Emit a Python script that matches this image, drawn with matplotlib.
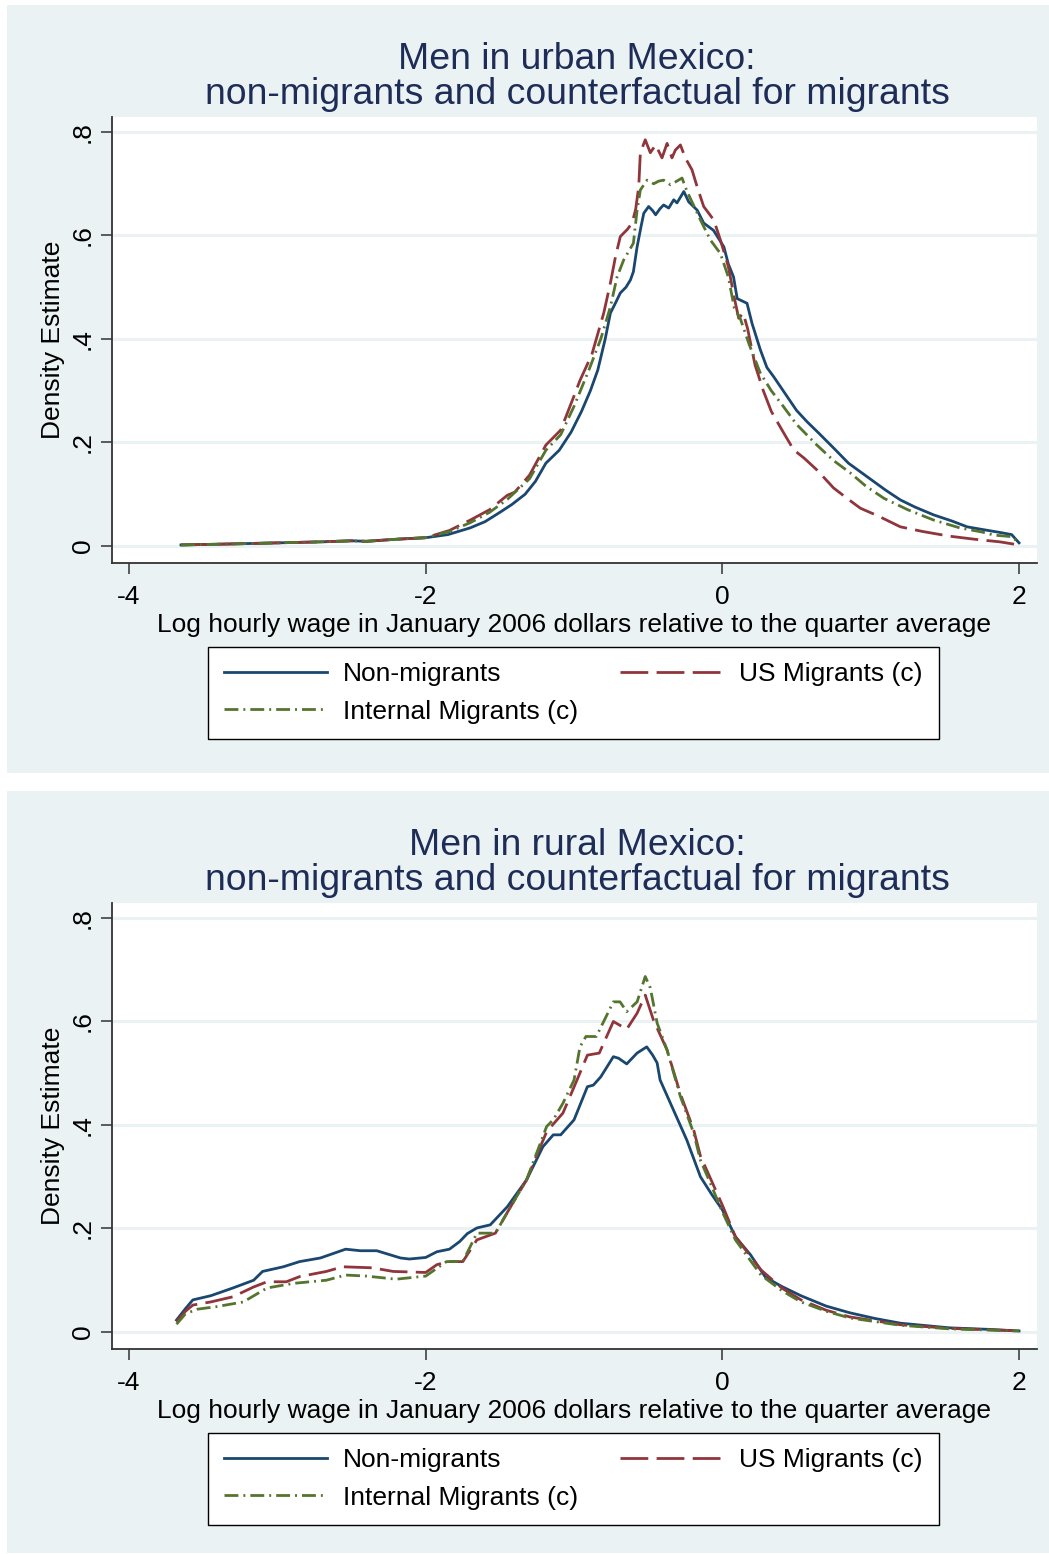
import matplotlib
matplotlib.use("Agg")
import matplotlib.pyplot as plt
from matplotlib.patches import Rectangle

# wage density estimates, urban panel
urban_nonmig_x = [-3.65, -3.3, -3.0, -2.7, -2.5, -2.4, -2.2, -2.0, -1.85, -1.70, -1.60, -1.50, -1.42,
                  -1.33, -1.26, -1.19, -1.10, -1.02, -0.95, -0.89, -0.84, -0.79, -0.755, -0.72, -0.688,
                  -0.65, -0.62, -0.60, -0.575, -0.55, -0.53, -0.497, -0.47, -0.45, -0.42, -0.396, -0.362,
                  -0.328, -0.306, -0.26, -0.227, -0.17, -0.126, -0.06, 0.01, 0.04, 0.075, 0.10, 0.166,
                  0.20, 0.256, 0.30, 0.346, 0.436, 0.50, 0.571, 0.65, 0.751, 0.85, 0.975, 1.10, 1.20,
                  1.30, 1.425, 1.55, 1.65, 1.75, 1.874, 1.95, 2.0]
urban_nonmig_y = [0.002, 0.004, 0.006, 0.008, 0.010, 0.009, 0.013, 0.016, 0.022, 0.035, 0.047, 0.065, 0.080,
                  0.100, 0.125, 0.160, 0.185, 0.220, 0.260, 0.300, 0.340, 0.400, 0.450, 0.470, 0.489,
                  0.500, 0.514, 0.530, 0.578, 0.615, 0.643, 0.656, 0.648, 0.640, 0.652, 0.659, 0.653,
                  0.669, 0.663, 0.685, 0.665, 0.649, 0.624, 0.610, 0.578, 0.545, 0.520, 0.478, 0.469,
                  0.430, 0.379, 0.345, 0.327, 0.289, 0.262, 0.240, 0.218, 0.189, 0.160, 0.134, 0.108, 0.089,
                  0.075, 0.060, 0.048, 0.037, 0.032, 0.026, 0.022, 0.006]

urban_us_x = [-3.65, -3.3, -3.0, -2.7, -2.5, -2.4, -2.2, -2.0, -1.84, -1.70, -1.57, -1.45, -1.40, -1.30,
              -1.19, -1.09, -1.00, -0.96, -0.88, -0.80, -0.755, -0.72, -0.688, -0.64, -0.609, -0.585,
              -0.564, -0.553, -0.52, -0.486, -0.45, -0.407, -0.373, -0.34, -0.317, -0.283, -0.25, -0.205,
              -0.17, -0.126, -0.058, -0.013, 0.04, 0.08, 0.11, 0.14, 0.17, 0.22, 0.276, 0.33, 0.40, 0.48,
              0.55, 0.637, 0.75, 0.85, 0.93, 1.05, 1.20, 1.35, 1.53, 1.70, 1.87, 2.0]
urban_us_y = [0.002, 0.004, 0.006, 0.008, 0.010, 0.009, 0.013, 0.016, 0.030, 0.050, 0.070, 0.098, 0.104, 0.137,
              0.195, 0.224, 0.290, 0.320, 0.370, 0.450, 0.508, 0.560, 0.598, 0.612, 0.624, 0.650,
              0.694, 0.760, 0.785, 0.760, 0.775, 0.750, 0.778, 0.750, 0.765, 0.775, 0.750, 0.727,
              0.694, 0.656, 0.630, 0.591, 0.540, 0.480, 0.440, 0.450, 0.420, 0.350, 0.300, 0.260, 0.225, 0.186,
              0.170, 0.147, 0.112, 0.090, 0.073, 0.058, 0.037, 0.028, 0.019, 0.013, 0.008, 0.002]

urban_int_x = [-3.65, -3.3, -3.0, -2.7, -2.5, -2.4, -2.2, -2.0, -1.84, -1.70, -1.57, -1.45, -1.30, -1.19,
               -1.09, -1.00, -0.90, -0.82, -0.755, -0.71, -0.665, -0.60, -0.575, -0.553, -0.508, -0.463,
               -0.43, -0.396, -0.35, -0.272, -0.238, -0.19, -0.148, -0.08, -0.013, 0.04, 0.08, 0.12, 0.18,
               0.256, 0.33, 0.41, 0.50, 0.637, 0.75, 0.863, 0.97, 1.09, 1.25, 1.425, 1.60, 1.75, 1.83,
               1.95, 2.0]
urban_int_y = [0.002, 0.004, 0.006, 0.008, 0.010, 0.009, 0.013, 0.016, 0.028, 0.045, 0.065, 0.090, 0.130, 0.185,
               0.215, 0.270, 0.340, 0.400, 0.462, 0.520, 0.553, 0.585, 0.649, 0.688, 0.707, 0.700,
               0.705, 0.707, 0.698, 0.711, 0.685, 0.656, 0.630, 0.591, 0.565, 0.520, 0.460, 0.440, 0.390,
               0.334, 0.300, 0.270, 0.235, 0.195, 0.165, 0.141, 0.115, 0.092, 0.070, 0.050, 0.035, 0.027, 0.021,
               0.018, 0.006]

# wage density estimates, rural panel
rural_nonmig_x = [-3.68, -3.62, -3.57, -3.45, -3.30, -3.16, -3.10, -2.96, -2.85, -2.71, -2.62, -2.54, -2.44,
                  -2.33, -2.17, -2.11, -2.0, -1.925, -1.84, -1.77, -1.72, -1.655, -1.565, -1.45, -1.32,
                  -1.21, -1.14, -1.09, -1.0, -0.91, -0.87, -0.82, -0.735, -0.70, -0.645, -0.575, -0.51,
                  -0.47, -0.44, -0.42, -0.33, -0.24, -0.148, -0.07, 0.0, 0.088, 0.19, 0.29, 0.40, 0.53,
                  0.70, 0.86, 1.03, 1.2, 1.53, 1.80, 2.0]
rural_nonmig_y = [0.023, 0.045, 0.062, 0.070, 0.085, 0.100, 0.117, 0.126, 0.136, 0.143, 0.152, 0.160, 0.157,
                  0.157, 0.143, 0.141, 0.144, 0.155, 0.160, 0.175, 0.190, 0.201, 0.207, 0.242, 0.294,
                  0.358, 0.381, 0.381, 0.410, 0.474, 0.477, 0.493, 0.532, 0.529, 0.518, 0.539, 0.551,
                  0.535, 0.520, 0.487, 0.429, 0.371, 0.300, 0.265, 0.236, 0.184, 0.149, 0.106, 0.088, 0.070,
                  0.050, 0.037, 0.026, 0.017, 0.008, 0.005, 0.002]

rural_us_x = [-3.68, -3.62, -3.57, -3.45, -3.30, -3.16, -3.07, -2.94, -2.85, -2.67, -2.56, -2.36, -2.22,
              -2.0, -1.925, -1.85, -1.75, -1.655, -1.53, -1.44, -1.32, -1.185, -1.075, -0.98, -0.91,
              -0.83, -0.735, -0.645, -0.575, -0.52, -0.465, -0.373, -0.283, -0.193, -0.148, -0.07, 0.0,
              0.088, 0.26, 0.40, 0.53, 0.70, 0.86, 1.2, 1.53, 2.0]
rural_us_y = [0.020, 0.040, 0.052, 0.058, 0.068, 0.087, 0.097, 0.097, 0.107, 0.117, 0.126, 0.124, 0.117,
              0.115, 0.130, 0.136, 0.136, 0.178, 0.191, 0.236, 0.294, 0.387, 0.423, 0.487, 0.535,
              0.539, 0.600, 0.585, 0.616, 0.651, 0.603, 0.545, 0.460, 0.390, 0.340, 0.290, 0.245,
              0.184, 0.120, 0.085, 0.062, 0.042, 0.029, 0.014, 0.007, 0.002]

rural_int_x = [-3.68, -3.62, -3.54, -3.41, -3.23, -3.07, -2.89, -2.67, -2.54, -2.40, -2.20, -2.0, -1.86,
               -1.75, -1.655, -1.53, -1.44, -1.32, -1.185, -1.14, -1.075, -1.0, -0.96, -0.92, -0.85,
               -0.735, -0.69, -0.645, -0.575, -0.52, -0.486, -0.44, -0.373, -0.283, -0.193, -0.148,
               -0.07, 0.0, 0.088, 0.26, 0.40, 0.53, 0.70, 0.86, 1.2, 1.53, 2.0]
rural_int_y = [0.015, 0.035, 0.044, 0.049, 0.058, 0.085, 0.094, 0.100, 0.110, 0.108, 0.102, 0.108, 0.136,
               0.136, 0.191, 0.191, 0.236, 0.294, 0.397, 0.410, 0.442, 0.487, 0.551, 0.571, 0.571,
               0.638, 0.638, 0.619, 0.638, 0.687, 0.665, 0.597, 0.545, 0.455, 0.384, 0.332,
               0.280, 0.232, 0.178, 0.110, 0.080, 0.058, 0.040, 0.027, 0.013, 0.006, 0.002]

titles = ["Men in urban Mexico:\nnon-migrants and counterfactual for migrants",
          "Men in rural Mexico:\nnon-migrants and counterfactual for migrants"]
series_labels = ["Non-migrants", "US Migrants (c)", "Internal Migrants (c)"]
xticks = [-4, -2, 0, 2]
yticks = [0, 0.2, 0.4, 0.6, 0.8]
ytick_labels = ["0", ".2", ".4", ".6", ".8"]
xlabel = "Log hourly wage in January 2006 dollars relative to the quarter average"
ylabel = "Density Estimate"

plt.rcParams["font.family"] = ["Liberation Sans", "DejaVu Sans"]

W, H = 1049, 1554
BG = "#eaf2f3"
NAVY = "#1a476f"
MAROON = "#90353b"
GREEN = "#55752f"
TITLE_C = "#1e2c58"

styles = [dict(color=NAVY, lw=2.0, ls="-"),
          dict(color=MAROON, lw=2.0, ls=(0, (10, 3))),
          dict(color=GREEN, lw=2.0, ls=(0, (5, 1.8, 0.7, 1.8)))]


def fx(px):
    return px / W


def fy(py):
    return 1 - py / H


fig = plt.figure(figsize=(W / 100, H / 100), dpi=100)
fig.patch.set_facecolor("white")

panels = [
    (urban_nonmig_x, urban_nonmig_y, urban_us_x, urban_us_y, urban_int_x, urban_int_y),
    (rural_nonmig_x, rural_nonmig_y, rural_us_x, rural_us_y, rural_int_x, rural_int_y),
]

for i, data in enumerate(panels):
    off = 786 * i
    # panel background behind everything
    top = 5 + off
    bottom = 773 + off if i == 0 else 1553
    fig.patches.append(Rectangle((fx(7), fy(bottom)), fx(1049 - 7), (bottom - top) / H,
                                 transform=fig.transFigure, facecolor=BG, edgecolor="none",
                                 zorder=-10))

    ax = fig.add_axes([fx(111.7), fy(563 + off), fx(1037 - 111.7), (563 - 117) / H])
    ax.set_facecolor("white")
    ax.set_xlim(-4.117, 2.121)
    ax.set_ylim(-0.0329, 0.829)

    for yv in yticks:
        ax.axhline(yv, color=BG, lw=2.2, zorder=1)

    xs = [data[0], data[2], data[4]]
    ys = [data[1], data[3], data[5]]
    handles = []
    for x, y, st, lab in zip(xs, ys, styles, series_labels):
        h, = ax.plot(x, y, label=lab, zorder=3, solid_joinstyle="round", **st)
        handles.append(h)

    for s in ["top", "right"]:
        ax.spines[s].set_visible(False)
    for s in ["left", "bottom"]:
        ax.spines[s].set_color("#333333")
        ax.spines[s].set_linewidth(1.3)

    ax.set_xticks(xticks)
    ax.set_xticklabels([str(t) for t in xticks])
    ax.set_yticks(yticks)
    ax.set_yticklabels(ytick_labels, rotation=90, va="center")
    ax.tick_params(axis="both", length=8, width=1.1, color="#333333", labelsize=19, pad=4)
    ax.tick_params(axis="x", pad=8)

    ax.set_xlabel(xlabel, fontsize=19, labelpad=3)
    ax.set_ylabel(ylabel, fontsize=19, labelpad=4)

    fig.text(fx(577), fy(77 + off), titles[i], ha="center", va="center",
             fontsize=26.9, color=TITLE_C, linespacing=1.0)

    order = [handles[0], handles[2], handles[1]]
    leg = fig.legend(order, [h.get_label() for h in order], ncol=2,
                     loc="center", bbox_to_anchor=(fx(573.5), fy(693 + off)),
                     fontsize=19, frameon=True, fancybox=False, framealpha=1,
                     facecolor="white", handlelength=3.9,
                     handletextpad=0.6, columnspacing=1.6, borderpad=0.6,
                     labelspacing=0.5)
    leg.get_frame().set_edgecolor("black")
    leg.get_frame().set_linewidth(1.0)

fig.savefig("out.png", dpi=100, facecolor="white")
